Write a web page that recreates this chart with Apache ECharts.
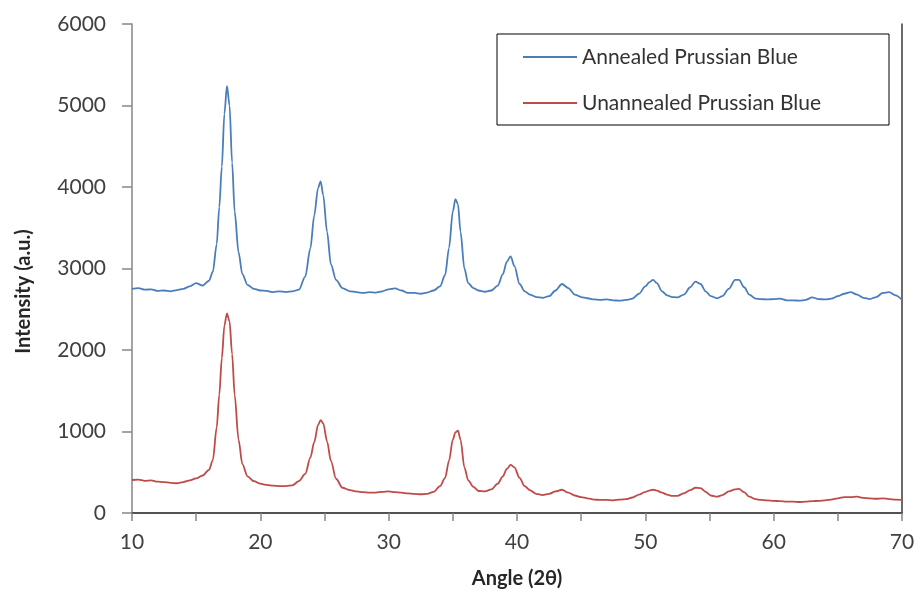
<!DOCTYPE html>
<html>
<head>
<meta charset="utf-8">
<script src="https://cdn.jsdelivr.net/npm/echarts@6/dist/echarts.min.js"></script>
<style>
  html, body { margin: 0; padding: 0; background: #fff; }
  #xrd { width: 923px; height: 599px; }
</style>
</head>
<body>
<div id="xrd"></div>
<script>
// 2θ positions (degrees), shared by both patterns
const angles = [
  10, 10.5, 11, 11.5, 12, 12.5, 13, 13.5, 14, 14.5,
  15, 15.5, 16, 16.3, 16.6, 16.8, 17.0, 17.2, 17.4, 17.6,
  17.8, 18.0, 18.3, 18.6, 19.0, 19.5, 20, 20.5, 21, 21.5,
  22, 22.5, 23, 23.5, 23.9, 24.2, 24.5, 24.7, 24.9, 25.2,
  25.5, 25.9, 26.4, 27, 27.5, 28, 28.5, 29, 29.5, 30,
  30.5, 31, 31.5, 32, 32.5, 33, 33.5, 34, 34.4, 34.7,
  35.0, 35.2, 35.4, 35.6, 35.9, 36.2, 36.6, 37, 37.5, 38,
  38.5, 38.9, 39.2, 39.5, 39.8, 40.2, 40.6, 41, 41.5, 42,
  42.5, 43, 43.5, 44, 44.5, 45, 45.5, 46, 46.5, 47,
  47.5, 48, 48.5, 49, 49.5, 50, 50.3, 50.6, 50.9, 51.3,
  51.7, 52.1, 52.5, 53, 53.5, 53.9, 54.3, 54.7, 55.1, 55.6,
  56, 56.5, 57.0, 57.3, 57.7, 58.1, 58.6, 59, 59.5, 60,
  60.5, 61, 61.5, 62, 62.5, 63, 63.5, 64, 64.5, 65,
  65.5, 66, 66.5, 67, 67.5, 68, 68.5, 69, 69.5, 70
];

// intensity (a.u.)
const annealed = [
  2750, 2760, 2740, 2745, 2725, 2730, 2720, 2735, 2750, 2780,
  2820, 2790, 2850, 2960, 3300, 3750, 4250, 4900, 5240, 5000,
  4300, 3700, 3200, 2930, 2800, 2750, 2730, 2725, 2710, 2720,
  2710, 2720, 2740, 2900, 3250, 3650, 3990, 4070, 3900, 3450,
  3050, 2860, 2760, 2720, 2710, 2700, 2710, 2705, 2720, 2745,
  2755, 2730, 2700, 2700, 2690, 2705, 2730, 2780, 2920, 3250,
  3700, 3850, 3790, 3450, 3000, 2820, 2760, 2730, 2715, 2730,
  2790, 2930, 3080, 3150, 3030, 2810, 2720, 2680, 2650, 2640,
  2660, 2730, 2810, 2760, 2680, 2650, 2635, 2620, 2615, 2620,
  2610, 2605, 2615, 2630, 2690, 2780, 2830, 2860, 2820, 2720,
  2670, 2650, 2645, 2680, 2770, 2840, 2810, 2720, 2660, 2635,
  2660, 2750, 2860, 2860, 2770, 2680, 2630, 2625, 2620, 2625,
  2630, 2610, 2610, 2605, 2615, 2645, 2625, 2620, 2630, 2660,
  2690, 2710, 2680, 2640, 2625, 2650, 2700, 2710, 2670, 2615
];

const unannealed = [
  405, 410, 395, 400, 385, 380, 370, 365, 380, 400,
  425, 460, 530, 650, 1050, 1450, 1900, 2300, 2450, 2350,
  1950, 1450, 900, 600, 450, 390, 360, 345, 335, 330,
  330, 340, 390, 480, 680, 870, 1080, 1140, 1100, 880,
  640, 420, 310, 280, 265, 255, 250, 250, 260, 265,
  255, 250, 240, 235, 230, 235, 260, 330, 430, 640,
  900, 990, 1010, 900, 560, 400, 320, 270, 265, 290,
  360, 450, 540, 590, 560, 430, 330, 280, 235, 220,
  235, 265, 285, 250, 215, 195, 180, 165, 160, 160,
  155, 165, 170, 190, 225, 260, 275, 285, 275, 250,
  225, 210, 210, 240, 280, 310, 305, 260, 215, 200,
  220, 265, 290, 295, 255, 200, 170, 160, 155, 150,
  145, 140, 140, 135, 140, 145, 150, 155, 165, 180,
  195, 195, 200, 185, 180, 175, 180, 170, 165, 160
];

const seriesNames = ['Annealed Prussian Blue', 'Unannealed Prussian Blue'];

const chart = echarts.init(document.getElementById('xrd'));

const pairs = vals => angles.map((a, i) => [a, vals[i]]);
const font = 'Lato';

const option = {
  animation: false,
  textStyle: { fontFamily: font },
  grid: { left: 132, right: 21, top: 24, bottom: 86 },
  legend: {
    orient: 'vertical',
    left: 497,
    top: 34,
    data: seriesNames,
    icon: 'rect',
    backgroundColor: '#fff',
    borderColor: '#000',
    borderWidth: 1,
    padding: [12, 27, 11, 26],
    itemWidth: 54,
    itemHeight: 2,
    itemGap: 24,
    textStyle: { fontFamily: font, fontSize: 21, lineHeight: 22, color: '#333', width: 280 }
  },
  xAxis: [
    {
      type: 'value',
      min: 10,
      max: 70,
      interval: 10,
      name: 'Angle (2θ)',
      nameLocation: 'middle',
      nameGap: 56,
      nameTextStyle: { fontFamily: font, fontSize: 20, fontWeight: 'bold', color: '#262626' },
      axisLine: { lineStyle: { color: '#868686', width: 1.5 } },
      axisTick: { length: 8, lineStyle: { color: '#868686', width: 1.5 } },
      minorTick: { show: true, splitNumber: 2, length: 8, lineStyle: { color: '#868686', width: 1.5 } },
      axisLabel: { fontFamily: font, fontSize: 21, color: '#404040', margin: 19 },
      splitLine: { show: false }
    },
    {
      type: 'value',
      position: 'top',
      min: 10,
      max: 70,
      axisLine: { show: true, lineStyle: { color: '#3a3a3a', width: 1.5 } },
      axisTick: { show: false },
      axisLabel: { show: false },
      splitLine: { show: false }
    }
  ],
  yAxis: [
    {
      type: 'value',
      min: 0,
      max: 6000,
      interval: 1000,
      name: 'Intensity (a.u.)',
      nameLocation: 'middle',
      nameGap: 98,
      nameTextStyle: { fontFamily: font, fontSize: 20, fontWeight: 'bold', color: '#262626', padding: [0, 46, 0, 0] },
      axisLine: { show: true, lineStyle: { color: '#868686', width: 1.5 } },
      axisTick: { show: true, length: 10, lineStyle: { color: '#868686', width: 1.5 } },
      axisLabel: { fontFamily: font, fontSize: 21, color: '#404040', margin: 26, formatter: v => String(v) },
      splitLine: { show: false }
    },
    {
      type: 'value',
      position: 'right',
      min: 0,
      max: 6000,
      axisLine: { show: true, lineStyle: { color: '#3a3a3a', width: 1.5 } },
      axisTick: { show: false },
      axisLabel: { show: false },
      splitLine: { show: false }
    }
  ],
  series: [
    {
      name: seriesNames[0],
      type: 'line',
      data: pairs(annealed),
      symbol: 'none',
      smooth: 0.3,
      smoothMonotone: 'x',
      color: '#4A7EBB',
      lineStyle: { color: '#4A7EBB', width: 1.8 }
    },
    {
      name: seriesNames[1],
      type: 'line',
      data: pairs(unannealed),
      symbol: 'none',
      smooth: 0.3,
      smoothMonotone: 'x',
      color: '#BE4B48',
      lineStyle: { color: '#BE4B48', width: 1.8 }
    }
  ]
};

chart.setOption(option);

window.addEventListener('resize', () => {
  chart.resize();
});
</script>
</body>
</html>
